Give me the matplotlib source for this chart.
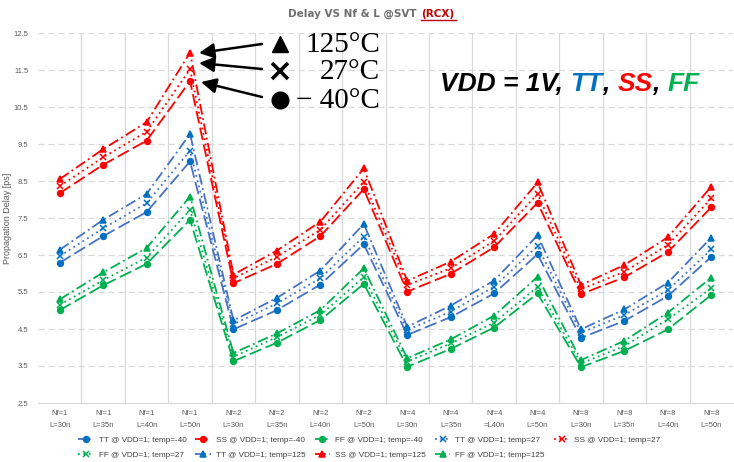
"""Propagation delay vs. finger count and gate length, three corners at three temperatures."""

import matplotlib
matplotlib.use("Agg")
import matplotlib.pyplot as plt
from matplotlib.lines import Line2D

# Categories (the Nf=4 / L=40n label is spelled as in the source sheet)
categories = [
    "Nf=1\nL=30n", "Nf=1\nL=35n", "Nf=1\nL=40n", "Nf=1\nL=50n",
    "Nf=2\nL=30n", "Nf=2\nL=35n", "Nf=2\nL=40n", "Nf=2\nL=50n",
    "Nf=4\nL=30n", "Nf=4\nL=35n", "Nf=4\n=L40n", "Nf=4\nL=50n",
    "Nf=8\nL=30n", "Nf=8\nL=35n", "Nf=8\nL=40n", "Nf=8\nL=50n",
]

# Propagation delay [ps]
tt_m40 = [6.29, 7.01, 7.66, 9.03, 4.49, 5.01, 5.70, 6.79, 4.34, 4.82, 5.46, 6.52, 4.26, 4.72, 5.39, 6.45]
ss_m40 = [8.17, 8.94, 9.59, 11.20, 5.74, 6.26, 7.01, 8.28, 5.51, 5.99, 6.71, 7.91, 5.44, 5.90, 6.58, 7.79]
ff_m40 = [5.01, 5.68, 6.26, 7.45, 3.63, 4.13, 4.74, 5.72, 3.48, 3.96, 4.54, 5.46, 3.47, 3.91, 4.49, 5.42]
tt_27 = [6.47, 7.22, 7.90, 9.32, 4.63, 5.19, 5.87, 7.00, 4.47, 4.97, 5.64, 6.74, 4.40, 4.88, 5.55, 6.65]
ss_27 = [8.36, 9.14, 9.83, 11.52, 5.87, 6.45, 7.18, 8.48, 5.69, 6.14, 6.88, 8.15, 5.57, 6.05, 6.77, 8.03]
ff_27 = [5.15, 5.82, 6.43, 7.72, 3.75, 4.28, 4.88, 5.90, 3.62, 4.11, 4.67, 5.64, 3.57, 4.04, 4.76, 5.60]
tt_125 = [6.64, 7.45, 8.15, 9.77, 4.73, 5.34, 6.08, 7.34, 4.56, 5.13, 5.81, 7.03, 4.49, 5.03, 5.75, 6.97]
ss_125 = [8.55, 9.36, 10.09, 11.97, 5.97, 6.62, 7.40, 8.84, 5.80, 6.32, 7.07, 8.46, 5.69, 6.23, 6.98, 8.35]
ff_125 = [5.30, 6.03, 6.69, 8.08, 3.85, 4.38, 5.01, 6.14, 3.71, 4.22, 4.86, 5.91, 3.66, 4.18, 4.94, 5.89]

# colours: (line, marker)
TT = ("#4472C4", "#0070C0")
SS = ("#FF0000", "#FF0000")
FF = ("#00B050", "#00B050")

DASH_M40 = (0, (7, 2.5))
DASH_27 = (0, (1, 2))
DASH_125 = (0, (6, 2, 1, 2))

series = [
    ("TT @ VDD=1; temp=-40", tt_m40, TT, "o", DASH_M40),
    ("SS @ VDD=1; temp=-40", ss_m40, SS, "o", DASH_M40),
    ("FF @ VDD=1; temp=-40", ff_m40, FF, "o", DASH_M40),
    ("TT @ VDD=1; temp=27", tt_27, TT, "x", DASH_27),
    ("SS @ VDD=1; temp=27", ss_27, SS, "x", DASH_27),
    ("FF @ VDD=1; temp=27", ff_27, FF, "x", DASH_27),
    ("TT @ VDD=1; temp=125", tt_125, TT, "^", DASH_125),
    ("SS @ VDD=1; temp=125", ss_125, SS, "^", DASH_125),
    ("FF @ VDD=1; temp=125", ff_125, FF, "^", DASH_125),
]

SANS = "Liberation Sans"
W, H, DPI = 734, 462, 100
fig = plt.figure(figsize=(W / DPI, H / DPI), dpi=DPI)
ax = fig.add_axes([38 / W, 1 - 403 / H, (733 - 38) / W, (403 - 33) / H])

x = list(range(len(categories)))
handles = []
for label, vals, (lc, mc), mk, ls in series:
    ms = 4.2 if mk == "o" else 4.8
    (h,) = ax.plot(x, vals, color=lc, lw=1.3, linestyle=ls, marker=mk,
                   markersize=ms, markerfacecolor=mc, markeredgecolor=mc,
                   markeredgewidth=1.1, label=label, zorder=3)
    handles.append(h)

ax.set_xlim(-0.5, len(categories) - 0.5)
ax.set_ylim(2.5, 12.5)
ax.set_yticks([2.5 + i for i in range(11)])
ax.set_yticklabels([f"{2.5 + i:.1f}" for i in range(11)], family=SANS)
ax.set_xticks(x)
ax.set_xticklabels(categories, linespacing=2.0, family=SANS)
ax.tick_params(axis="both", length=0, labelsize=5.5, labelcolor="#595959")
ax.tick_params(axis="x", pad=5)
ax.tick_params(axis="y", pad=7)

# horizontal dashed grid, vertical category separators
for yv in ax.get_yticks():
    ax.axhline(yv, color="#D9D9D9", lw=0.9, ls=(0, (5, 3)), zorder=0)
for xv in range(1, len(categories)):
    ax.axvline(xv - 0.5, color="#D9D9D9", lw=0.9, zorder=0)
for side in ("top", "right", "left"):
    ax.spines[side].set_visible(False)
ax.spines["bottom"].set_color("#D9D9D9")

ax.set_ylabel("Propagation Delay [ps]", fontsize=6.5, color="#595959",
              labelpad=1, family=SANS)

# legend: matplotlib fills columns first, so interleave to get rows
order = [0, 5, 1, 6, 2, 7, 3, 8, 4]
leg = fig.legend([handles[i] for i in order], [series[i][0] for i in order],
                 ncol=5, loc="upper left", bbox_to_anchor=(74 / W, 1 - 432 / H),
                 frameon=False, prop={"family": SANS, "size": 5.9},
                 handlelength=1.9, columnspacing=1.1,
                 handletextpad=0.6, labelspacing=0.85, borderpad=0)
for t in leg.get_texts():
    t.set_color("#404040")

# title, with the red underlined tag
fig.text(417 / W, 1 - 14 / H, "Delay VS Nf & L @SVT", ha="right", va="center",
         fontsize=7.5, fontweight="bold", color="#6E6E6E")
fig.text(421 / W, 1 - 14 / H, "(RCX)", ha="left", va="center",
         fontsize=7.5, fontweight="bold", color="#C00000")
fig.add_artist(Line2D([421 / W, 456 / W], [1 - 20 / H, 1 - 20 / H],
                      color="#C00000", lw=1.0))

# temperature key with arrows pointing at the SS peak
serif = "Liberation Serif"
key_rows = [("^", "125°C", 44), ("x", "27°C", 71), ("o", "− 40°C", 100)]
for mk, txt, yp in key_rows:
    fig.add_artist(Line2D([280 / W], [1 - yp / H], marker=mk, color="black",
                          markersize=12, markeredgewidth=2.6 if mk == "x" else 1,
                          linestyle="none"))
    fig.text(380 / W, 1 - (yp + 1) / H, txt, ha="right", va="center",
             fontsize=21, family=serif, color="black")

arrows = [((262, 44), (199, 53)), ((262, 69), (199, 63)), ((262, 97), (201, 82))]
for (x0, y0), (x1, y1) in arrows:
    ax.annotate("", xy=(x1 / W, 1 - y1 / H), xycoords="figure fraction",
                xytext=(x0 / W, 1 - y0 / H), textcoords="figure fraction",
                arrowprops=dict(arrowstyle="-|>,head_length=0.9,head_width=0.45",
                                color="black", lw=1.8, shrinkA=0, shrinkB=0))

# corner banner
banner = [("VDD = 1V, ", "black"), ("TT", "#0070C0"), (", ", "black"),
          ("SS", "#FF0000"), (", ", "black"), ("FF", "#00B050")]
fig.canvas.draw()
renderer = fig.canvas.get_renderer()
xpos = 440
for txt, col in banner:
    t = fig.text(xpos / W, 1 - 84 / H, txt, ha="left", va="center", fontsize=19,
                 fontweight="bold", fontstyle="italic", color=col, family=SANS)
    bb = t.get_window_extent(renderer=renderer)
    xpos += bb.width * W / fig.bbox.width

fig.savefig("out.png", dpi=DPI)
